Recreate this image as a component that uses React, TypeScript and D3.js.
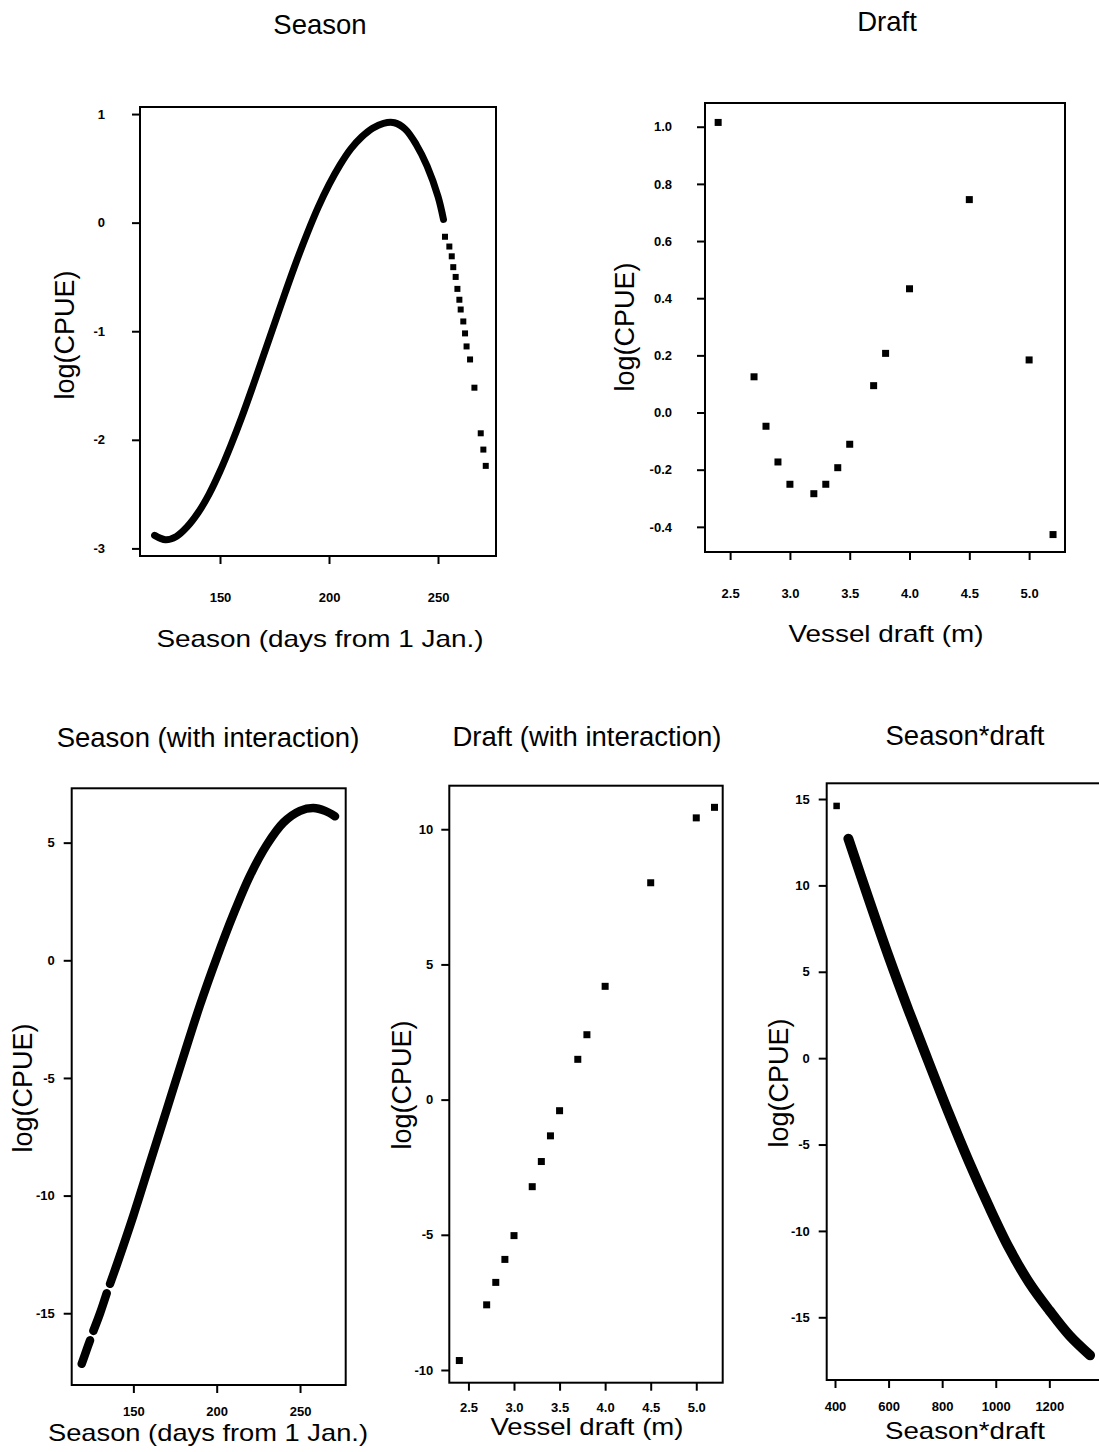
import React, { useEffect, useRef } from 'react';
import * as d3 from 'd3';

// Season effect (no interaction) - dense fitted band, then the sparse late-season tail
const seasonDays = [120, 125, 130, 135, 140, 145, 150, 155, 160, 165, 170, 175, 180, 185, 190, 195, 200, 205, 210, 215, 220, 225, 230, 235, 240, 245, 250, 252.5];
const seasonFit = [-2.88, -2.92, -2.89, -2.8, -2.67, -2.5, -2.29, -2.05, -1.79, -1.51, -1.22, -0.93, -0.64, -0.36, -0.1, 0.14, 0.35, 0.53, 0.68, 0.79, 0.87, 0.915, 0.92, 0.86, 0.72, 0.52, 0.24, 0.03];
const seasonTailDays = [253.2, 255.2, 256.3, 257.0, 258.1, 258.9, 259.8, 260.4, 261.6, 262.4, 263.1, 264.7, 266.7, 269.6, 270.8, 271.9];
const seasonTailFit = [-0.13, -0.22, -0.31, -0.41, -0.5, -0.61, -0.71, -0.8, -0.91, -1.02, -1.14, -1.26, -1.52, -1.94, -2.09, -2.24];

// Draft effect
const draftMetres = [2.4, 2.7, 2.8, 2.9, 3.0, 3.2, 3.3, 3.4, 3.5, 3.7, 3.8, 4.0, 4.5, 5.0, 5.2];
const draftFit = [1.015, 0.125, -0.048, -0.173, -0.251, -0.284, -0.251, -0.193, -0.111, 0.094, 0.207, 0.433, 0.745, 0.184, -0.427];

// Season with interaction (null = no observations that day)
const seasonIxDays = [119, 122, 124, 125, 126, 130, 134, 135, 136, 140, 150, 160, 170, 180, 190, 200, 210, 220, 230, 240, 250, 258, 265, 271];
const seasonIxFit = [-17.15, -16.55, -16.15, null, -15.75, -15.0, -14.15, null, -13.75, -12.95, -10.85, -8.6, -6.35, -4.1, -1.9, 0.1, 1.95, 3.6, 4.9, 5.85, 6.35, 6.47, 6.35, 6.12];

// Draft with interaction
const draftIxFit = [-9.65, -7.59, -6.76, -5.91, -5.03, -3.22, -2.29, -1.34, -0.41, 1.49, 2.4, 4.19, 8.02, 10.42, 10.81];

// Season*draft term
const seasonDraft = [450, 525, 600, 675, 750, 825, 900, 975, 1050, 1125, 1200, 1275, 1352];
const seasonDraftFit = [12.7, 9.25, 5.9, 2.75, -0.25, -3.2, -6.0, -8.6, -11.0, -13.0, -14.6, -16.05, -17.2];
const seasonDraftLoneX = [406];
const seasonDraftLoneFit = [14.6];

// tick labels
const seasonTicks = [150, 200, 250];
const draftTicks = [2.5, 3.0, 3.5, 4.0, 4.5, 5.0];
const productTicks = [400, 600, 800, 1000, 1200];
const seasonYTicks = [1, 0, -1, -2, -3];
const draftYTicks = [1.0, 0.8, 0.6, 0.4, 0.2, 0.0, -0.2, -0.4];
const seasonIxYTicks = [5, 0, -5, -10, -15];
const draftIxYTicks = [10, 5, 0, -5, -10];
const productYTicks = [15, 10, 5, 0, -5, -10, -15];

const FONT = 'Liberation Sans, Arial, Helvetica, sans-serif';
const plain = (d) => String(d);
const oneDec = (d) => d.toFixed(1);

const panels = [
  {
    title: 'Season', titleAt: [320, 34],
    box: [140, 107, 496, 556], xDomain: [113.3, 276.6], yDomain: [-3.07, 1.065],
    xTicks: seasonTicks, yTicks: seasonYTicks, xFmt: plain, yFmt: plain,
    yGap: 35, xGap: 46,
    xTitle: 'Season (days from 1 Jan.)', xTitleAt: [320, 647], xTitleLen: 327,
    yTitleAt: [64, 335],
    bands: [{ x: seasonDays, y: seasonFit, w: 7 }],
    points: [{ x: seasonTailDays, y: seasonTailFit, s: 6 }],
  },
  {
    title: 'Draft', titleAt: [887, 31],
    box: [705, 103, 1065, 552], xDomain: [2.29, 5.3], yDomain: [-0.488, 1.083],
    xTicks: draftTicks, yTicks: draftYTicks, xFmt: oneDec, yFmt: oneDec,
    yGap: 33, xGap: 46,
    xTitle: 'Vessel draft (m)', xTitleAt: [886, 642], xTitleLen: 195,
    yTitleAt: [624, 327],
    bands: [],
    points: [{ x: draftMetres, y: draftFit, s: 7 }],
  },
  {
    title: 'Season (with interaction)', titleAt: [208, 747],
    box: [71.7, 788.3, 345.7, 1385], xDomain: [113, 277.4], yDomain: [-18.05, 7.31],
    xTicks: seasonTicks, yTicks: seasonIxYTicks, xFmt: plain, yFmt: plain,
    yGap: 17, xGap: 30.5,
    xTitle: 'Season (days from 1 Jan.)', xTitleAt: [208, 1441], xTitleLen: 320,
    yTitleAt: [22.5, 1088],
    bands: [{ x: seasonIxDays, y: seasonIxFit, w: 8.5 }],
    points: [],
  },
  {
    title: 'Draft (with interaction)', titleAt: [587, 746],
    box: [449.3, 785.7, 722.7, 1382.7], xDomain: [2.29, 5.29], yDomain: [-10.47, 11.61],
    xTicks: draftTicks, yTicks: draftIxYTicks, xFmt: oneDec, yFmt: plain,
    yGap: 16, xGap: 29,
    xTitle: 'Vessel draft (m)', xTitleAt: [587, 1435], xTitleLen: 193,
    yTitleAt: [401, 1085],
    bands: [],
    points: [{ x: draftMetres, y: draftIxFit, s: 7 }],
  },
  {
    title: 'Season*draft', titleAt: [965, 745],
    box: [826.7, 783.3, 1108, 1380], xDomain: [369, 1419], yDomain: [-18.63, 15.91],
    xTicks: productTicks, yTicks: productYTicks, xFmt: plain, yFmt: plain,
    yGap: 17, xGap: 30.5,
    xTitle: 'Season*draft', xTitleAt: [965, 1439], xTitleLen: 160,
    yTitleAt: [778, 1083],
    bands: [{ x: seasonDraft, y: seasonDraftFit, w: 10 }],
    points: [{ x: seasonDraftLoneX, y: seasonDraftLoneFit, s: 6.5 }],
  },
];

const TICK = 8;

function drawPanel(svg, p) {
  const [l, t, r, b] = p.box;
  const x = d3.scaleLinear().domain(p.xDomain).range([l, r]);
  const y = d3.scaleLinear().domain(p.yDomain).range([b, t]);
  const g = svg.append('g');

  // axes (ticks outside the frame)
  const yAxis = d3.axisLeft(y).tickValues(p.yTicks).tickFormat(p.yFmt)
    .tickSize(TICK).tickPadding(p.yGap - TICK);
  const xAxis = d3.axisBottom(x).tickValues(p.xTicks).tickFormat(p.xFmt)
    .tickSize(TICK).tickPadding(p.xGap - TICK - 9.2);

  [g.append('g').attr('transform', `translate(${l},0)`).call(yAxis),
   g.append('g').attr('transform', `translate(0,${b})`).call(xAxis)]
    .forEach(a => {
      a.select('.domain').remove();
      a.selectAll('line').attr('stroke', '#000').attr('stroke-width', 2);
      a.selectAll('text')
        .attr('fill', '#000')
        .style('font-family', FONT)
        .style('font-size', '13px')
        .style('font-weight', 'bold');
    });

  // frame
  g.append('rect')
    .attr('x', l).attr('y', t)
    .attr('width', r - l).attr('height', b - t)
    .attr('fill', 'none').attr('stroke', '#000').attr('stroke-width', 2);

  // dense fitted bands drawn as a thick stroke
  p.bands.forEach(band => {
    const rows = band.x.map((v, i) => ({ x: v, y: band.y[i] }));
    const line = d3.line()
      .defined(d => d.y != null)
      .x(d => x(d.x))
      .y(d => y(d.y))
      .curve(d3.curveCatmullRom.alpha(0.5));
    g.append('path')
      .attr('d', line(rows))
      .attr('fill', 'none')
      .attr('stroke', '#000')
      .attr('stroke-width', band.w)
      .attr('stroke-linecap', 'round')
      .attr('stroke-linejoin', 'round');
  });

  // square markers
  p.points.forEach(set => {
    g.selectAll(null)
      .data(set.x.map((v, i) => ({ x: v, y: set.y[i] })))
      .enter()
      .append('rect')
      .attr('x', d => x(d.x) - set.s / 2)
      .attr('y', d => y(d.y) - set.s / 2)
      .attr('width', set.s)
      .attr('height', set.s)
      .attr('fill', '#000');
  });

  // titles
  g.append('text')
    .attr('x', p.titleAt[0]).attr('y', p.titleAt[1])
    .attr('text-anchor', 'middle')
    .style('font-family', FONT).style('font-size', '27.5px')
    .text(p.title);

  g.append('text')
    .attr('x', p.xTitleAt[0]).attr('y', p.xTitleAt[1])
    .attr('text-anchor', 'middle')
    .attr('textLength', p.xTitleLen)
    .attr('lengthAdjust', 'spacingAndGlyphs')
    .style('font-family', FONT).style('font-size', '24px')
    .text(p.xTitle);

  g.append('text')
    .attr('transform', `translate(${p.yTitleAt[0]},${p.yTitleAt[1]}) rotate(-90)`)
    .attr('text-anchor', 'middle')
    .attr('dy', '0.36em')
    .style('font-family', FONT).style('font-size', '27px')
    .text('log(CPUE)');
}

const App = () => {
  const svgRef = useRef(null);

  useEffect(() => {
    const svg = d3.select(svgRef.current);
    svg.selectAll('*').remove();
    panels.forEach(p => drawPanel(svg, p));
  }, []);

  return (
    <div style={{ position: 'absolute', left: 0, top: 0, width: 1099, height: 1452, overflow: 'hidden', background: '#fff' }}>
      <svg ref={svgRef} width={1099} height={1452} style={{ display: 'block' }}></svg>
    </div>
  );
};

export default App;
